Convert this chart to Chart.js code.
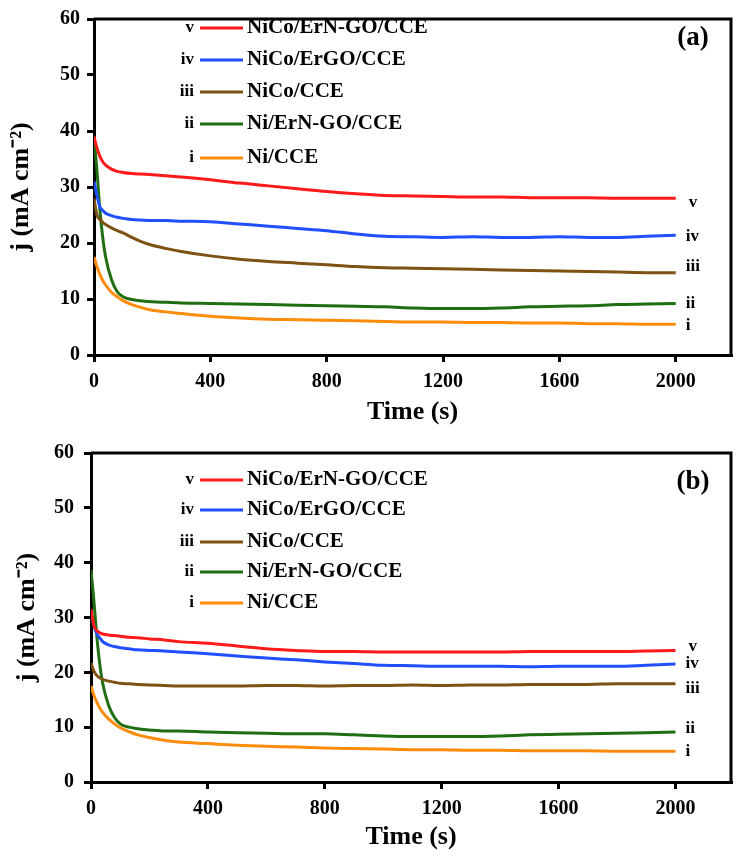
<!DOCTYPE html>
<html>
<head>
<meta charset="UTF-8">
<title>Chronoamperometry (a) and (b)</title>
<script src="https://cdn.jsdelivr.net/npm/chart.js"></script>
<style>
  body { margin: 0; background: #fff; }
  canvas { display: block; }
</style>
</head>
<body>
<canvas id="chartA" width="738" height="428"></canvas>
<canvas id="chartB" width="738" height="429"></canvas>

<script>
// time axis (s), shared by every curve
const times = [0, 10, 20, 30, 40, 60, 80, 100, 130, 160, 200, 250, 300, 400, 500, 600, 700, 800, 900, 1000,
               1100, 1200, 1300, 1400, 1500, 1600, 1700, 1800, 1900, 2000];

const seriesNames = ["NiCo/ErN-GO/CCE", "NiCo/ErGO/CCE", "NiCo/CCE", "Ni/ErN-GO/CCE", "Ni/CCE"];
const seriesTags = ["v", "iv", "iii", "ii", "i"];
const seriesColors = ["#ff1a1a", "#1f4fff", "#7d5213", "#1f6e12", "#ff8c0a"];

// panel (a), j in mA cm-2
const aNiCoErNGO = [39, 37, 35.5, 34.5, 33.9, 33.2, 32.8, 32.6, 32.4, 32.3, 32.2, 32.0, 31.8, 31.3, 30.7, 30.2, 29.7, 29.2, 28.8, 28.5,
                    28.4, 28.3, 28.2, 28.2, 28.1, 28.1, 28.1, 28.0, 28.0, 28.0];
const aNiCoErGO = [31, 28.5, 26.5, 25.8, 25.3, 24.9, 24.6, 24.4, 24.2, 24.1, 24.0, 24.0, 23.9, 23.8, 23.4, 23.0, 22.6, 22.2, 21.6, 21.2,
                   21.1, 21.0, 21.1, 21.0, 21.0, 21.1, 21.0, 21.0, 21.2, 21.4];
const aNiCo = [28, 25, 24.2, 23.7, 23.3, 22.7, 22.2, 21.8, 21.0, 20.3, 19.6, 19.0, 18.5, 17.7, 17.1, 16.7, 16.4, 16.1, 15.8, 15.6,
               15.5, 15.4, 15.3, 15.2, 15.1, 15.0, 14.9, 14.8, 14.7, 14.7];
const aNiErNGO = [39, 33, 26, 21, 17.5, 13.5, 11.3, 10.4, 9.9, 9.7, 9.5, 9.4, 9.3, 9.2, 9.1, 9.0, 8.9, 8.8, 8.7, 8.6,
                  8.4, 8.3, 8.3, 8.4, 8.6, 8.7, 8.8, 9.0, 9.1, 9.2];
const aNi = [17.5, 15.8, 14.4, 13.3, 12.5, 11.2, 10.4, 9.7, 9.0, 8.5, 8.0, 7.7, 7.4, 6.9, 6.6, 6.4, 6.3, 6.2, 6.1, 6.0,
             5.9, 5.9, 5.8, 5.8, 5.7, 5.7, 5.6, 5.6, 5.5, 5.5];

// panel (b)
const bNiCoErNGO = [31.5, 28.5, 27.6, 27.2, 27.0, 26.8, 26.7, 26.6, 26.4, 26.3, 26.1, 25.9, 25.6, 25.3, 24.8, 24.3, 24.0, 23.8, 23.8, 23.7,
                    23.7, 23.7, 23.7, 23.7, 23.8, 23.8, 23.8, 23.8, 23.9, 24.0];
const bNiCoErGO = [31, 28.5, 27.0, 26.3, 25.6, 25.0, 24.7, 24.5, 24.3, 24.1, 24.0, 23.9, 23.7, 23.4, 23.0, 22.6, 22.3, 21.9, 21.6, 21.3,
                   21.2, 21.1, 21.1, 21.1, 21.0, 21.1, 21.1, 21.1, 21.3, 21.5];
const bNiCo = [21.7, 20.2, 19.4, 19.0, 18.7, 18.4, 18.2, 18.0, 17.9, 17.8, 17.7, 17.6, 17.5, 17.5, 17.5, 17.6, 17.6, 17.5, 17.6, 17.6,
               17.7, 17.6, 17.7, 17.7, 17.8, 17.8, 17.8, 17.9, 17.9, 17.9];
const bNiErNGO = [38.7, 33, 26.5, 21.5, 18, 14, 11.8, 10.6, 10.0, 9.7, 9.5, 9.3, 9.3, 9.1, 9.0, 8.9, 8.8, 8.8, 8.6, 8.4,
                  8.3, 8.3, 8.3, 8.4, 8.6, 8.7, 8.8, 8.9, 9.0, 9.1];
const bNi = [17.5, 15.8, 14.5, 13.5, 12.7, 11.5, 10.6, 9.9, 9.2, 8.6, 8.1, 7.6, 7.3, 7.0, 6.7, 6.5, 6.4, 6.2, 6.1, 6.0,
             5.9, 5.9, 5.8, 5.8, 5.7, 5.7, 5.7, 5.6, 5.6, 5.6];

const xTicks = [0, 400, 800, 1200, 1600, 2000];
const yTicks = [0, 10, 20, 30, 40, 50, 60];

const serif = "'Liberation Serif', 'Times New Roman', serif";

// frame, legend with roman numerals, panel tag and end labels
const panelDecor = {
  id: "panelDecor",
  afterDatasetsDraw(chart, args, opts) {
    const ctx = chart.ctx;
    const a = chart.chartArea;
    ctx.save();
    ctx.strokeStyle = "#000";
    ctx.lineWidth = 3;
    ctx.beginPath();
    ctx.moveTo(a.left, a.top);
    ctx.lineTo(a.right, a.top);
    ctx.lineTo(a.right, a.bottom);
    ctx.stroke();

    // legend
    ctx.textBaseline = "middle";
    opts.rows.forEach((y, i) => {
      ctx.fillStyle = "#000";
      ctx.font = "bold 17px " + serif;
      ctx.textAlign = "right";
      ctx.fillText(seriesTags[i], 194, y);
      ctx.strokeStyle = seriesColors[i];
      ctx.lineWidth = 3;
      ctx.beginPath();
      ctx.moveTo(200, y);
      ctx.lineTo(243, y);
      ctx.stroke();
      ctx.font = "bold 21px " + serif;
      ctx.textAlign = "left";
      ctx.fillText(seriesNames[i], 247, y);
    });

    // panel tag
    ctx.font = "bold 27px " + serif;
    ctx.textAlign = "center";
    ctx.fillStyle = "#000";
    ctx.fillText(opts.tag, 693, opts.tagY);

    // end labels next to the last point of every curve
    ctx.font = "bold 17px " + serif;
    ctx.textAlign = "left";
    chart.data.datasets.forEach((ds, i) => {
      const pts = chart.getDatasetMeta(i).data;
      const p = pts[pts.length - 1];
      ctx.fillText(seriesTags[i], p.x + (i === 0 ? 13 : 10), p.y + opts.endDy[i]);
    });
    ctx.restore();
  }
};

function buildChart(id, values, cfg) {
  const datasets = values.map((vals, i) => ({
    label: seriesNames[i],
    data: times.map((t, k) => ({ x: t, y: vals[k] })),
    borderColor: seriesColors[i],
    borderWidth: 3,
    pointRadius: 0,
    cubicInterpolationMode: "monotone",
    fill: false
  }));

  return new Chart(document.getElementById(id), {
    type: "line",
    data: { datasets: datasets },
    options: {
      responsive: false,
      animation: false,
      layout: { padding: { top: cfg.top, right: 7, left: 0, bottom: 0 } },
      plugins: {
        legend: { display: false },
        tooltip: { enabled: false },
        panelDecor: { rows: cfg.rows, tag: cfg.tag, tagY: cfg.tagY, endDy: cfg.endDy }
      },
      scales: {
        x: {
          type: "linear",
          min: 0,
          max: 2190,
          afterFit: s => { s.height = cfg.xHeight; },
          afterBuildTicks: s => { s.ticks = xTicks.map(v => ({ value: v })); },
          ticks: { color: "#000", padding: 8, maxRotation: 0, callback: v => String(v),
                   font: { family: serif, size: 20, weight: "bold" } },
          grid: { drawOnChartArea: false, drawTicks: true, tickLength: 7, color: "#000", lineWidth: 3 },
          border: { color: "#000", width: 3 },
          title: { display: true, text: "Time (s)", color: "#000", padding: { top: 0, bottom: cfg.xTitlePad },
                   font: { family: serif, size: 26, weight: "bold" } }
        },
        y: {
          min: 0,
          max: 60,
          afterFit: s => { s.width = cfg.yWidth; },
          afterBuildTicks: s => { s.ticks = yTicks.map(v => ({ value: v })); },
          ticks: { color: "#000", padding: cfg.yPad, font: { family: serif, size: 20, weight: "bold" } },
          grid: { drawOnChartArea: false, drawTicks: true, tickLength: 7, color: "#000", lineWidth: 3 },
          border: { color: "#000", width: 3 },
          title: { display: true, text: "j (mA cm⁻²)", color: "#000", padding: { top: cfg.yTitlePad, bottom: 0 },
                   font: { family: serif, size: 26, weight: "bold" } }
        }
      }
    },
    plugins: [panelDecor]
  });
}

buildChart("chartA", [aNiCoErNGO, aNiCoErGO, aNiCo, aNiErNGO, aNi], {
  top: 8, xHeight: 73, yWidth: 94, yPad: 7, xTitlePad: 0, yTitlePad: 6,
  rows: [28, 60, 92, 124, 158], tag: "(a)", tagY: 38, endDy: [4, 1, -6, 0, 1]
});

buildChart("chartB", [bNiCoErNGO, bNiCoErGO, bNiCo, bNiErNGO, bNi], {
  top: 25, xHeight: 75, yWidth: 91, yPad: 10, xTitlePad: 4, yTitlePad: 12,
  rows: [52, 82, 114, 144, 175], tag: "(b)", tagY: 54, endDy: [-4, 0, 5, -3, 0]
});
</script>
</body>
</html>
